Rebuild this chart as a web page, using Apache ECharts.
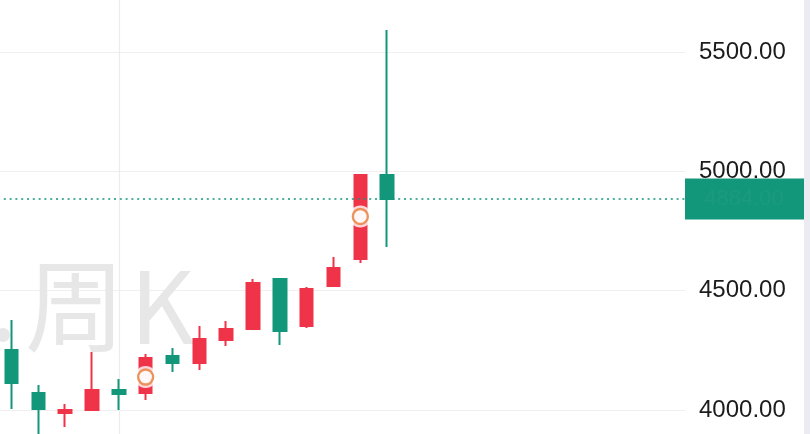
<!DOCTYPE html>
<html><head><meta charset="utf-8">
<script src="https://cdn.jsdelivr.net/npm/echarts@6/dist/echarts.min.js"></script>
<style>html,body{margin:0;padding:0;background:#fff;overflow:hidden}#c{width:810px;height:434px}</style>
</head><body><div id="c"></div>
<script>
// ---- data ----
const weeks = ['W01','W02','W03','W04','W05','W06','W07','W08','W09','W10','W11','W12','W13','W14','W15',
               'W16','W17','W18','W19','W20','W21','W22','W23','W24','W25','W26'];
const opens  = [4251, 4071, 3987, 4000, 4084, 4071, 4226, 4197, 4293, 4339, 4549, 4352, 4520, 4633, 4985];
const closes = [4113, 4004, 4000, 4084, 4067, 4218, 4197, 4297, 4339, 4532, 4331, 4507, 4595, 4985, 4884];
const lows   = [4004, 3874, 3929, 3996, 4000, 4042, 4159, 4168, 4268, 4335, 4272, 4344, 4515, 4616, 4683];
const highs  = [4377, 4105, 4025, 4243, 4130, 4235, 4260, 4352, 4373, 4549, 4552, 4515, 4641, 4988, 5592];
const yTicks = [4000, 4500, 5000, 5500];
const markIdx = [5, 13];
const markVals = [4138, 4811];
const lastPrice = 4884;
const gridLineIdx = 4;
const watermarkChars = ['周', 'K'];

// ---- style ----
const RED = '#ef3349', GREEN = '#13977b', ORANGE = '#e67c36';
const yMin = 3500, yMax = 6000, yStep = 500;
const gTop = -67.33, gHeight = 596.67;

const candleData = opens.map((o, i) => [o, closes[i], lows[i], highs[i]]);
const markData = markIdx.map((i, k) => [weeks[i], markVals[k]]);

const chart = echarts.init(document.getElementById('c'), null, {renderer: 'canvas'});
chart.setOption({
  animation: false,
  backgroundColor: '#fff',
  grid: [
    {left: -2, top: gTop, height: gHeight, width: 26 * 26.84, outerBoundsMode: 'none', containLabel: false},
    {left: -2, top: gTop, height: gHeight, width: 687, outerBoundsMode: 'none', containLabel: false}
  ],
  xAxis: [
    {gridIndex: 0, type: 'category', data: weeks, show: false},
    {gridIndex: 1, type: 'value', min: 0, max: 1, show: false}
  ],
  yAxis: [
    {gridIndex: 0, type: 'value', min: yMin, max: yMax, show: false, splitLine: {show: false}},
    {gridIndex: 1, type: 'value', position: 'right', min: yMin, max: yMax, interval: yStep,
     axisLine: {show: true, lineStyle: {color: '#dcdcdc', width: 1.5}},
     axisTick: {show: false},
     splitLine: {show: true, lineStyle: {color: '#efefef', width: 1}},
     axisLabel: {
       margin: 14, fontSize: 24, color: '#1c1c1c', fontFamily: 'Liberation Sans, Arial, sans-serif',
       formatter: v => (yTicks.indexOf(v) >= 0 ? v.toFixed(2) : '')
     }}
  ],
  series: [
    {
      type: 'candlestick', xAxisIndex: 0, yAxisIndex: 0, data: candleData, barWidth: 13,
      itemStyle: {color: RED, color0: GREEN, borderColor: RED, borderColor0: GREEN, borderWidth: 2},
      markLine: {
        silent: true, symbol: 'none', z: 1, label: {show: false},
        data: [{xAxis: weeks[gridLineIdx], lineStyle: {color: '#ececec', width: 1.2, type: 'solid'}}]
      }
    },
    {
      type: 'line', xAxisIndex: 1, yAxisIndex: 1, data: [[0, lastPrice]], showSymbol: false, symbol: 'none',
      lineStyle: {opacity: 0}, silent: true,
      markLine: {
        silent: true, symbol: 'none', z: 4, label: {show: false},
        data: [{yAxis: lastPrice, lineStyle: {color: GREEN, width: 1.6, type: [2, 3.8]}}]
      }
    },
    {
      type: 'scatter', xAxisIndex: 0, yAxisIndex: 0, data: markData, symbol: 'circle', symbolSize: 22, z: 5,
      itemStyle: {color: '#fff'}, silent: true
    },
    {
      type: 'scatter', xAxisIndex: 0, yAxisIndex: 0, data: markData, symbol: 'circle', symbolSize: 15, z: 6,
      itemStyle: {color: '#fff', borderColor: ORANGE, borderWidth: 2.4}, silent: true
    }
  ]
});

const py = chart.convertToPixel({yAxisIndex: 1}, lastPrice);
chart.setOption({
  graphic: [
    {type: 'text', x: 25, y: 306, z: 0, silent: true,
     style: {text: watermarkChars[0], font: '100px "Noto Sans CJK SC", sans-serif', fill: '#e7e7e7', verticalAlign: 'middle', align: 'left'}},
    {type: 'text', x: 130, y: 306, z: 0, silent: true,
     style: {text: watermarkChars[1], font: '100px "Noto Sans CJK SC", sans-serif', fill: '#e7e7e7', verticalAlign: 'middle', align: 'left'}},
    {type: 'circle', shape: {cx: 3, cy: 335, r: 7}, style: {fill: '#e7e7e7'}, z: 0, silent: true},
    {type: 'rect', shape: {x: 804, y: 0, width: 6, height: 434}, style: {fill: '#ebebf2'}, z: 100, silent: true},
    {type: 'rect', shape: {x: 685, y: py - 20.5, width: 119, height: 41}, style: {fill: GREEN}, z: 100, silent: true},
    {type: 'text', x: 744, y: py, z: 101, silent: true,
     style: {text: lastPrice.toFixed(2), font: '22px "Liberation Sans", sans-serif', fill: 'rgba(255,255,255,0.03)', align: 'center', verticalAlign: 'middle'}}
  ]
});
</script>
</body></html>
